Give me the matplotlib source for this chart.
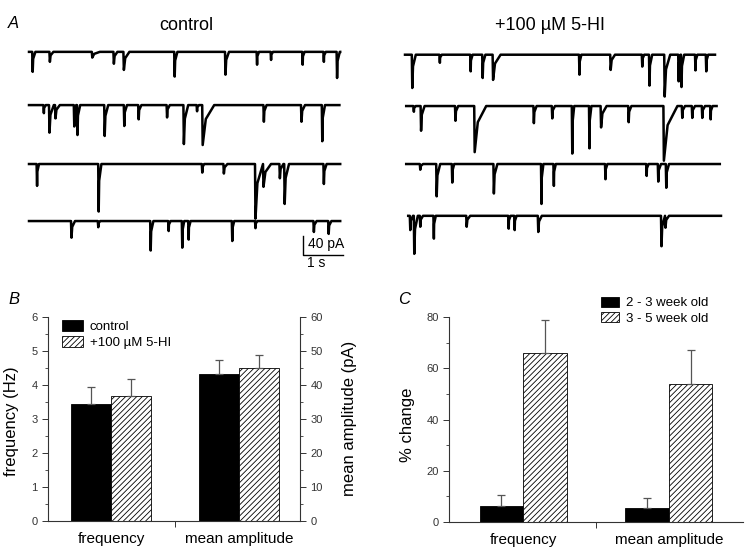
import numpy as np
import matplotlib
matplotlib.use("Agg")
import matplotlib.pyplot as plt

plt.rcParams['font.family'] = ['Liberation Sans', 'DejaVu Sans']
plt.rcParams['hatch.linewidth'] = 0.6
plt.rcParams['hatch.color'] = '#444444'

# ---- panel A: spontaneous events, (time s, amplitude pA, decay s) per sweep ----
control_sweeps = [
    [(0.08, 42, 0.08), (0.51, 21, 0.1), (1.57, 12, 0.2), (2.11, 25, 0.1), (2.36, 38, 0.15),
     (3.63, 52, 0.08), (4.90, 48, 0.1), (5.69, 27, 0.06), (6.04, 17, 0.06), (6.83, 27, 0.06),
     (7.36, 21, 0.06), (7.69, 55, 0.08)],
    [(0.36, 17, 0.06), (0.50, 58, 0.12), (0.65, 28, 0.12), (1.12, 45, 0.06), (1.20, 63, 0.08),
     (1.88, 65, 0.1), (2.37, 44, 0.08), (2.73, 30, 0.08), (3.44, 26, 0.08), (3.86, 82, 0.12),
     (4.19, 13, 0.06), (4.33, 84, 0.3), (5.86, 35, 0.08), (6.80, 35, 0.1), (7.32, 76, 0.08)],
    [(0.19, 46, 0.06), (1.73, 100, 0.08), (4.32, 18, 0.06), (4.86, 20, 0.1), (5.65, 115, 0.2),
     (5.85, 48, 0.2), (6.26, 30, 0.1), (6.38, 84, 0.12), (7.36, 42, 0.08)],
    [(1.05, 35, 0.1), (1.72, 13, 0.06), (3.03, 62, 0.08), (3.48, 21, 0.06), (3.82, 56, 0.06),
     (3.98, 39, 0.06), (5.07, 42, 0.06), (5.65, 15, 0.06), (7.11, 23, 0.08), (7.48, 27, 0.08)],
]
control_spans = [(0.0, 7.78), (0.0, 7.76), (0.0, 7.78), (0.0, 7.78)]

hi_sweeps = [
    [(0.17, 70, 0.1), (0.86, 17, 0.06), (1.63, 35, 0.06), (1.93, 49, 0.08), (2.19, 53, 0.2),
     (4.35, 42, 0.06), (5.13, 32, 0.12), (5.92, 25, 0.06), (6.10, 65, 0.08), (6.48, 88, 0.15),
     (6.83, 56, 0.06), (6.90, 68, 0.08), (7.25, 33, 0.06), (7.52, 35, 0.06)],
    [(0.21, 12, 0.06), (0.39, 52, 0.1), (1.25, 31, 0.08), (1.73, 97, 0.3), (3.21, 36, 0.08),
     (3.67, 26, 0.08), (4.17, 100, 0.06), (4.60, 89, 0.06), (4.89, 45, 0.15), (5.58, 34, 0.08),
     (6.46, 115, 0.35), (6.92, 25, 0.08), (7.17, 25, 0.08), (7.42, 25, 0.08), (7.63, 28, 0.06)],
    [(0.37, 12, 0.08), (0.78, 68, 0.1), (1.17, 39, 0.06), (2.21, 62, 0.1), (3.40, 84, 0.06),
     (3.71, 46, 0.06), (5.00, 32, 0.06), (6.03, 25, 0.06), (6.32, 37, 0.08), (6.52, 50, 0.08)],
    [(0.12, 30, 0.08), (0.22, 80, 0.1), (0.37, 23, 0.08), (0.71, 48, 0.06), (1.53, 23, 0.1),
     (2.58, 27, 0.06), (2.73, 30, 0.06), (3.32, 34, 0.1), (6.40, 64, 0.1), (6.50, 25, 0.1)],
]
hi_spans = [(0.0, 7.75), (0.03, 7.79), (0.03, 7.87), (0.08, 7.9)]

# ---- panel B ----
b_groups = ['frequency', 'mean amplitude']
b_control = [3.45, 4.33]          # Hz, amplitude /10 (right axis in pA)
b_control_err = [0.48, 0.40]
b_hi = [3.67, 4.50]
b_hi_err = [0.51, 0.37]

# ---- panel C ----
c_groups = ['frequency', 'mean amplitude']
c_young = [6.2, 5.6]
c_young_err = [4.3, 3.8]
c_old = [65.8, 53.8]
c_old_err = [13.2, 13.2]

W, H = 753, 555
fig = plt.figure(figsize=(W / 100, H / 100), dpi=100)


def px_axes(left, top, right, bottom):
    return fig.add_axes([left / W, 1 - bottom / H, (right - left) / W, (bottom - top) / H])


def sweep_xy(events, span):
    # fast rise, quick partial recovery, slower return to baseline
    xs, ys = [span[0]], [0]
    for t, a, d in events:
        xs += [t, t + 0.012, t + 0.3 * d, t + d]
        ys += [0, -a, -0.35 * a, 0]
    xs.append(span[1])
    ys.append(0)
    return np.array(xs), np.array(ys)


ylim_tr = (-459, 46)
ax_c = px_axes(20, 30, 350, 270)
ax_h = px_axes(396, 30, 730, 270)
for ax, sweeps, spans, offs, xl in [
        (ax_c, control_sweeps, control_spans, [0, -112, -236, -356], (-0.225, 8.025)),
        (ax_h, hi_sweeps, hi_spans, [-6, -114, -236, -345], (-0.225, 8.125))]:
    for ev, sp, off in zip(sweeps, spans, offs):
        x, y = sweep_xy(ev, sp)
        ax.plot(x, y + off, color='black', lw=1.8)
    ax.set_xlim(*xl)
    ax.set_ylim(*ylim_tr)
    ax.axis('off')

# scale bar 40 pA / 1 s
ax_c.plot([6.85, 6.85, 7.85], [-387, -427, -427], color='black', lw=1)
ax_c.text(6.97, -405, '40 pA', fontsize=10, va='center', ha='left')
ax_c.text(6.95, -445, '1 s', fontsize=10, va='center', ha='left')

fig.text(186 / W, 1 - 25 / H, 'control', fontsize=13, ha='center', va='center')
fig.text(550 / W, 1 - 25 / H, '+100 \u00b5M 5-HI', fontsize=13, ha='center', va='center')
fig.text(8 / W, 1 - 24 / H, 'A', fontsize=12, style='italic', va='center')
fig.text(8 / W, 1 - 299 / H, 'B', fontsize=12, style='italic', va='center')
fig.text(398 / W, 1 - 299 / H, 'C', fontsize=12, style='italic', va='center')

spine_col = '#333333'
err_kw = dict(ecolor='#555555', elinewidth=0.9, capsize=3, capthick=0.9)


def style_bar_axes(ax):
    for s in ['top', 'right']:
        ax.spines[s].set_visible(False)
    for s in ['left', 'bottom']:
        ax.spines[s].set_color(spine_col)
        ax.spines[s].set_linewidth(0.8)
    ax.tick_params(axis='y', which='major', length=4, width=0.7, labelsize=8,
                   colors=spine_col, direction='out')
    ax.tick_params(axis='y', which='minor', length=2.5, width=0.6, colors=spine_col)
    ax.tick_params(axis='x', which='major', length=0, pad=8, labelsize=11)
    ax.tick_params(axis='x', which='minor', length=4, width=0.7, colors=spine_col)


# ---- B ----
axb = px_axes(48, 317, 300, 521)
xb = np.arange(len(b_groups))
wb = 0.31
axb.bar(xb - wb / 2, b_control, wb, color='black', edgecolor='black', lw=0.6,
        yerr=[[0, 0], b_control_err], error_kw=err_kw, label='control')
axb.bar(xb + wb / 2, b_hi, wb, color='white', edgecolor='black', lw=0.6, hatch='//////',
        yerr=[[0, 0], b_hi_err], error_kw=err_kw, label='+100 \u00b5M 5-HI')
axb.set_xlim(-0.492, 1.477)
axb.set_ylim(0, 6)
axb.set_yticks(range(0, 7))
axb.set_yticks(np.arange(0.5, 6, 1), minor=True)
axb.set_xticks(xb, b_groups)
axb.set_xticks([0.5], minor=True)
style_bar_axes(axb)
axb.set_ylabel('frequency (Hz)', fontsize=12)
axb.yaxis.set_label_coords(-0.115, 0.49)
axb.legend(loc='upper left', bbox_to_anchor=(62 / W, 1 - 320 / H), bbox_transform=fig.transFigure,
           frameon=False, fontsize=9.5, handlelength=1.6, handleheight=0.85, handletextpad=0.5,
           labelspacing=0.25, borderpad=0, borderaxespad=0)

axb2 = axb.twinx()
axb2.set_ylim(0, 60)
axb2.set_yticks(range(0, 70, 10))
axb2.set_yticks(range(5, 60, 10), minor=True)
for s in ['top', 'left', 'bottom']:
    axb2.spines[s].set_visible(False)
axb2.spines['right'].set_color(spine_col)
axb2.spines['right'].set_linewidth(0.8)
axb2.tick_params(axis='y', which='major', length=4, width=0.7, labelsize=8, colors=spine_col)
axb2.tick_params(axis='y', which='minor', length=2.5, width=0.6, colors=spine_col)
axb2.set_ylabel('mean amplitude (pA)', fontsize=12)
axb2.yaxis.set_label_coords(1.167, 0.505)

# ---- C ----
axc = px_axes(449, 317, 743, 522)
xc = np.arange(len(c_groups))
wc = 0.298
axc.bar(xc - wc / 2, c_young, wc, color='black', edgecolor='black', lw=0.6,
        yerr=[[0, 0], c_young_err], error_kw=err_kw, label='2 - 3 week old')
axc.bar(xc + wc / 2, c_old, wc, color='white', edgecolor='black', lw=0.6, hatch='//////',
        yerr=[[0, 0], c_old_err], error_kw=err_kw, label='3 - 5 week old')
axc.set_xlim(-0.507, 1.507)
axc.set_ylim(0, 80)
axc.set_yticks(range(0, 90, 20))
axc.set_yticks(range(10, 80, 20), minor=True)
axc.set_xticks(xc, c_groups)
axc.set_xticks([0.5], minor=True)
style_bar_axes(axc)
axc.set_ylabel('% change', fontsize=12)
axc.yaxis.set_label_coords(-0.116, 0.473)
axc.legend(loc='upper left', bbox_to_anchor=(601 / W, 1 - 297 / H), bbox_transform=fig.transFigure,
           frameon=False, fontsize=9.5, handlelength=1.4, handleheight=0.75, handletextpad=0.5,
           labelspacing=0.2, borderpad=0, borderaxespad=0)

fig.savefig('out.png', dpi=100)
